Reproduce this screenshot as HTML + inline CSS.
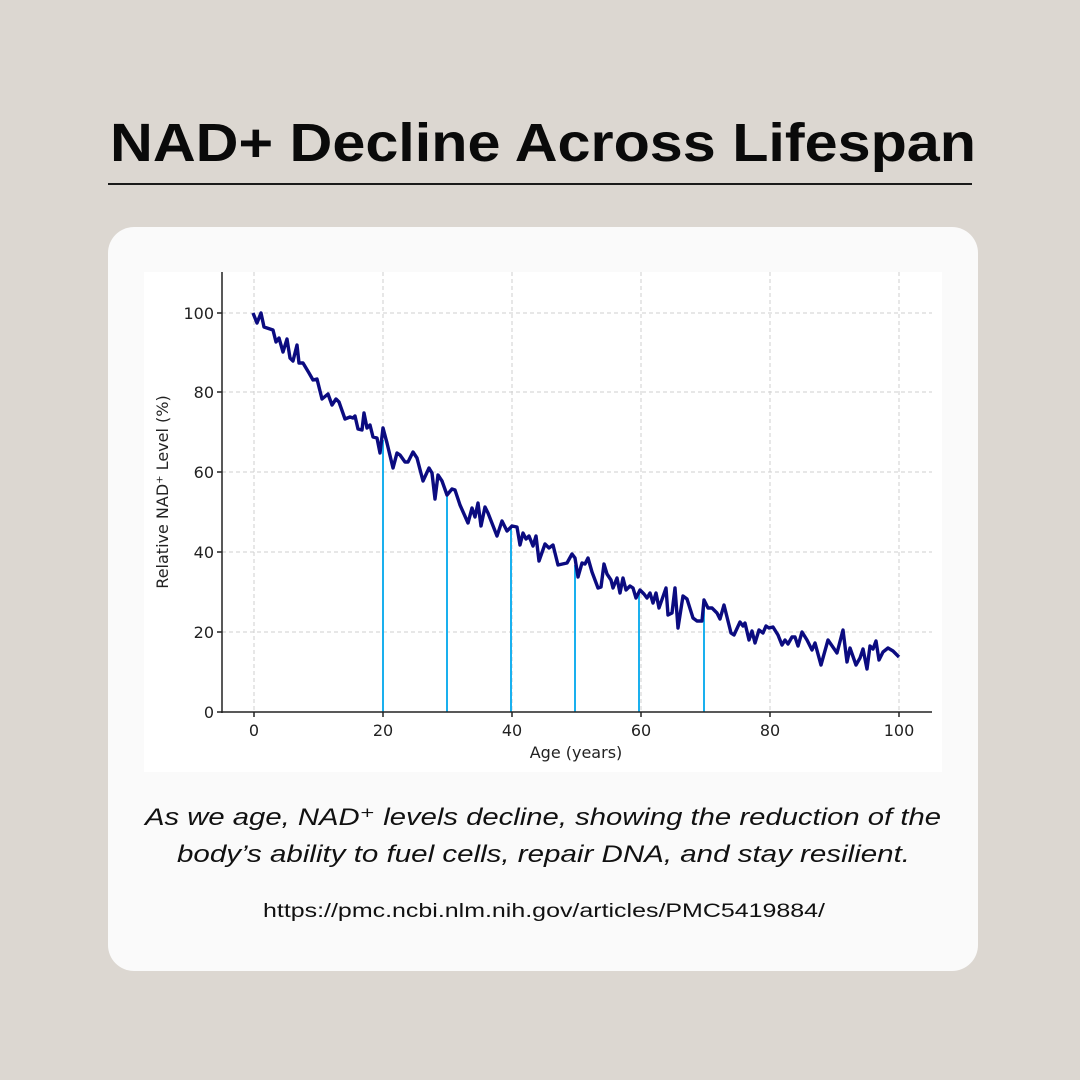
<!DOCTYPE html>
<html><head><meta charset="utf-8"><style>
html,body{margin:0;padding:0;background:#dcd7d1;}
svg{display:block;}
</style></head><body>
<svg width="1080" height="1080" viewBox="0 0 1080 1080" xmlns="http://www.w3.org/2000/svg" font-family="Liberation Sans, DejaVu Sans, sans-serif">
<rect width="1080" height="1080" fill="#dcd7d1"/>
<text x="110" y="161" font-size="54" font-weight="bold" fill="#0a0a0a" textLength="866" lengthAdjust="spacingAndGlyphs">NAD+ Decline Across Lifespan</text>
<rect x="108" y="183" width="864" height="2" fill="#1a1a1a"/>
<rect x="108" y="227" width="870" height="744" rx="26" fill="#fafafa"/>
<rect x="144" y="272" width="798" height="500" fill="#ffffff"/>
<g stroke="#cfcfcf" stroke-width="1" stroke-dasharray="4,3">
<line x1="254" y1="272" x2="254" y2="712"/><line x1="383" y1="272" x2="383" y2="712"/><line x1="512" y1="272" x2="512" y2="712"/><line x1="641" y1="272" x2="641" y2="712"/><line x1="770" y1="272" x2="770" y2="712"/><line x1="899" y1="272" x2="899" y2="712"/>
<line x1="222" y1="632" x2="932" y2="632"/><line x1="222" y1="552" x2="932" y2="552"/><line x1="222" y1="472" x2="932" y2="472"/><line x1="222" y1="392" x2="932" y2="392"/><line x1="222" y1="313" x2="932" y2="313"/>
</g>
<g stroke="#1ab0ee" stroke-width="2">
<line x1="383" y1="712" x2="383" y2="440"/><line x1="447" y1="712" x2="447" y2="492"/><line x1="511" y1="712" x2="511" y2="527"/><line x1="575" y1="712" x2="575" y2="565"/><line x1="639" y1="712" x2="639" y2="594"/><line x1="704" y1="712" x2="704" y2="606"/>
</g>
<polyline fill="none" stroke="#0b0b80" stroke-width="3.4" stroke-linejoin="round" points="253,313 257,323 261,313 264,327 270,329 273,330 276,342 279,338 283,352 287,339 290,358 293,361 297,345 299,363 303,363 306,368 309,373 313,380 317,379 322,399 328,394 332,405 336,399 339,402 345,419 350,417 353,418 355,416 358,429 362,430 364,413 367,428 370,425 373,437 377,438 380,453 383,428 387,443 393,468 397,453 400,455 405,462 408,462 413,452 417,458 423,481 429,468 432,473 435,499 438,475 442,481 447,495 452,489 455,490 460,505 468,523 472,508 475,517 478,503 481,526 485,507 488,513 497,536 502,521 507,531 512,526 517,527 520,545 523,533 526,539 529,536 533,546 536,536 539,561 545,544 549,548 553,545 558,565 567,563 572,554 575,558 578,577 582,563 585,564 588,558 592,572 598,588 601,587 604,564 607,574 611,580 613,588 617,578 620,593 623,578 626,590 630,586 633,588 636,598 640,590 644,594 647,598 650,593 653,603 656,593 659,608 666,588 668,615 672,613 675,588 678,628 683,596 687,599 693,618 697,621 702,621 704,600 708,608 712,608 717,613 720,619 724,605 731,633 734,635 740,622 743,626 745,623 749,640 752,631 755,643 759,630 763,633 766,626 769,628 773,627 778,635 782,645 785,640 788,644 792,637 795,637 798,646 802,632 807,640 812,650 815,643 821,665 828,640 837,653 843,630 847,662 850,648 856,665 860,658 863,649 867,669 870,646 873,649 876,641 879,660 883,652 888,648 893,651 899,657"/>
<g stroke="#222" stroke-width="1.5">
<line x1="222" y1="272" x2="222" y2="713"/><line x1="221" y1="712" x2="932" y2="712"/>
<line x1="254" y1="712" x2="254" y2="717"/><line x1="383" y1="712" x2="383" y2="717"/><line x1="512" y1="712" x2="512" y2="717"/><line x1="641" y1="712" x2="641" y2="717"/><line x1="770" y1="712" x2="770" y2="717"/><line x1="899" y1="712" x2="899" y2="717"/>
<line x1="217" y1="712" x2="222" y2="712"/><line x1="217" y1="632" x2="222" y2="632"/><line x1="217" y1="552" x2="222" y2="552"/><line x1="217" y1="472" x2="222" y2="472"/><line x1="217" y1="392" x2="222" y2="392"/><line x1="217" y1="313" x2="222" y2="313"/>
</g>
<g font-family="DejaVu Sans, sans-serif" font-size="16" fill="#222">
<g text-anchor="middle">
<text x="254" y="736">0</text><text x="383" y="736">20</text><text x="512" y="736">40</text><text x="641" y="736">60</text><text x="770" y="736">80</text><text x="899" y="736">100</text>
<text x="576" y="758">Age (years)</text>
</g>
<g text-anchor="end">
<text x="214" y="718">0</text><text x="214" y="638">20</text><text x="214" y="558">40</text><text x="214" y="478">60</text><text x="214" y="398">80</text><text x="214" y="319">100</text>
</g>
<text transform="translate(168,492) rotate(-90)" text-anchor="middle">Relative NAD⁺ Level (%)</text>
</g>
<g fill="#111">
<text x="145" y="825" font-size="24" font-style="italic" textLength="796" lengthAdjust="spacingAndGlyphs">As we age, NAD⁺ levels decline, showing the reduction of the</text>
<text x="177" y="862" font-size="24" font-style="italic" textLength="733" lengthAdjust="spacingAndGlyphs">body’s ability to fuel cells, repair DNA, and stay resilient.</text>
<text x="263" y="917" font-size="19" textLength="562" lengthAdjust="spacingAndGlyphs">https://pmc.ncbi.nlm.nih.gov/articles/PMC5419884/</text>
</g>
</svg>
</body></html>
